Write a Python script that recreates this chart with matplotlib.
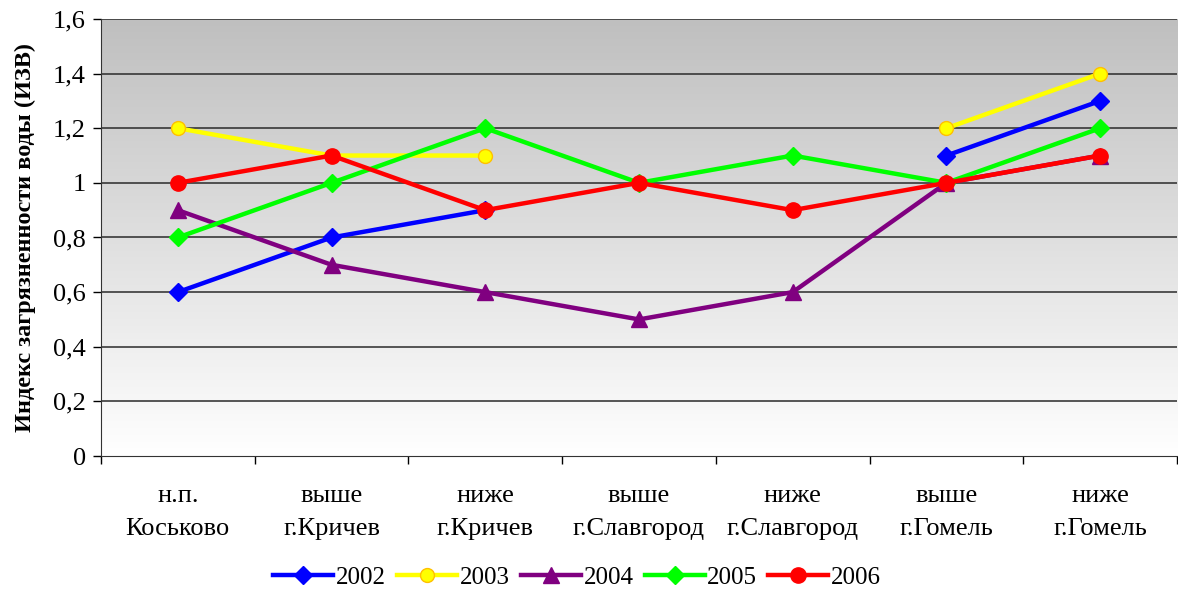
import numpy as np
import matplotlib

matplotlib.use("Agg")
import matplotlib.pyplot as plt  # noqa: E402
from matplotlib.lines import Line2D  # noqa: E402

plt.rcParams["font.family"] = ["Liberation Serif", "DejaVu Serif"]

sites = ["н.п.\nКоськово", "выше\nг.Кричев", "ниже\nг.Кричев", "выше\nг.Славгород",
         "ниже\nг.Славгород", "выше\nг.Гомель", "ниже\nг.Гомель"]
izv_2002 = [0.6, 0.8, 0.9, np.nan, np.nan, 1.1, 1.3]
izv_2003 = [1.2, 1.1, 1.1, np.nan, np.nan, 1.2, 1.4]
izv_2004 = [0.9, 0.7, 0.6, 0.5, 0.6, 1.0, 1.1]
izv_2005 = [0.8, 1.0, 1.2, 1.0, 1.1, 1.0, 1.2]
izv_2006 = [1.0, 1.1, 0.9, 1.0, 0.9, 1.0, 1.1]

SERIES = [
    ("2002", izv_2002, dict(color="#0000ff", marker="D", ms=9, mec="#0000ff", mfc="#0000ff")),
    ("2003", izv_2003, dict(color="#ffff00", marker="o", ms=10, mec="#ffc000", mfc="#ffff00")),
    ("2004", izv_2004, dict(color="#800080", marker="^", ms=11, mec="#800080", mfc="#800080")),
    ("2005", izv_2005, dict(color="#00ff00", marker="D", ms=9, mec="#00ff00", mfc="#00ff00")),
    ("2006", izv_2006, dict(color="#ff0000", marker="o", ms=11, mec="#ff0000", mfc="#ff0000")),
]

fig = plt.figure(figsize=(11.78, 5.92), dpi=100)
ax = fig.add_axes([0.0857, 0.2297, 0.9135, 0.7383])

x = np.arange(len(sites))
ax.set_xlim(-0.5, len(sites) - 0.5)
ax.set_ylim(0, 1.6)

# grey-to-white vertical gradient behind the plot
grad = np.linspace(1.0, 0.0, 256).reshape(-1, 1)
ax.imshow(grad, extent=[-0.5, len(sites) - 0.5, 0, 1.6], aspect="auto",
          cmap=matplotlib.colors.LinearSegmentedColormap.from_list("bg", ["#ffffff", "#bfbfbf"]),
          vmin=0, vmax=1, zorder=0, origin="upper")

for yv in np.arange(0.2, 1.61, 0.2):
    ax.axhline(yv, color="#2a2a2a", lw=1.1, zorder=1)

handles = []
for label, vals, st in SERIES:
    ax.plot(x, vals, lw=3.2, zorder=3, **st)
    handles.append(Line2D([], [], lw=3.2, label=label, **st))

ax.set_yticks(np.arange(0, 1.61, 0.2))
ax.set_yticklabels(["0", "0,2", "0,4", "0,6", "0,8", "1", "1,2", "1,4", "1,6"], fontsize=19)
ax.set_xticks(x)
ax.set_xticklabels(sites, fontsize=19, linespacing=1.65)
ax.set_xticks(np.arange(-0.5, len(sites)), minor=True)
ax.tick_params(axis="x", which="major", length=0, pad=21)
ax.tick_params(axis="x", which="minor", length=6, width=1, direction="out")
ax.tick_params(axis="y", length=6, width=1, direction="out", pad=5)

for side in ("top", "right"):
    ax.spines[side].set_visible(False)
ax.spines["left"].set_color("#333333")
ax.spines["bottom"].set_color("#333333")

ax.set_ylabel("Индекс загрязненности воды (ИЗВ)", fontsize=17.5, fontweight="bold", labelpad=12)

fig.legend(handles=handles, loc="center", bbox_to_anchor=(0.49, 0.024), ncol=5, frameon=False,
           fontsize=18, handlelength=2.4, handletextpad=0.1, columnspacing=0.45)

fig.savefig("out.png", dpi=100)
